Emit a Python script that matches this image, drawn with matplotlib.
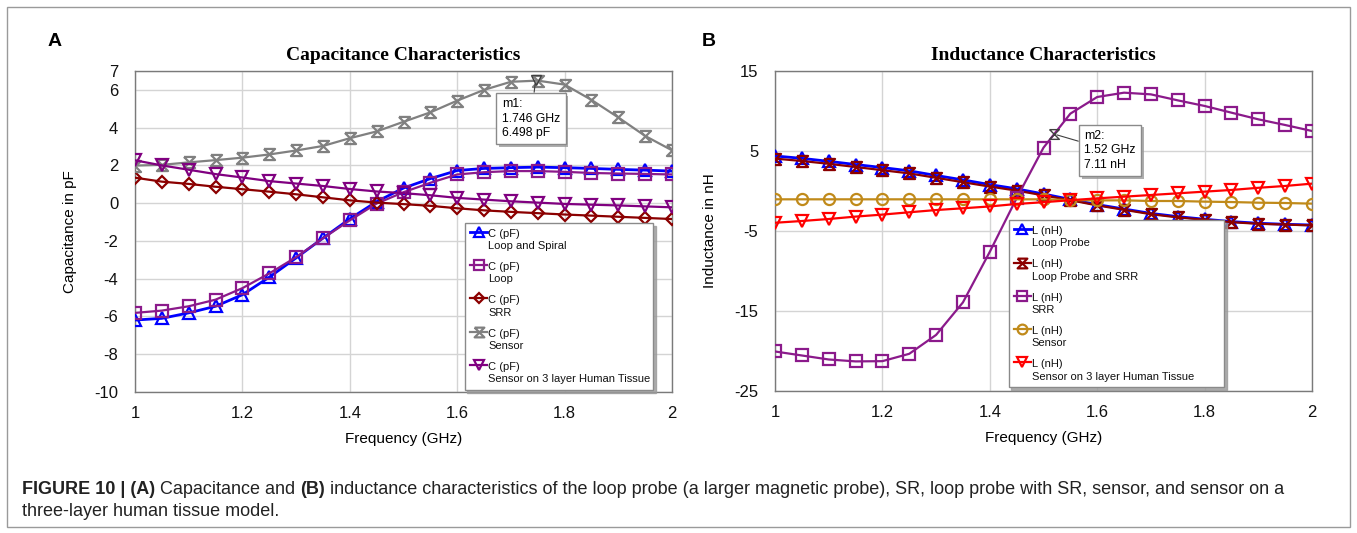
import matplotlib
matplotlib.use('Agg')
import matplotlib.pyplot as plt
import matplotlib.patheffects as pe
from matplotlib.lines import Line2D
from matplotlib.patches import Rectangle
from matplotlib.legend_handler import HandlerLine2D
from matplotlib.transforms import Affine2D

plt.rcParams['font.family'] = ['Liberation Sans', 'DejaVu Sans']
plt.rcParams['axes.unicode_minus'] = False

# ---- data ----
freq = [1.0, 1.05, 1.1, 1.15, 1.2, 1.25, 1.3, 1.35, 1.4, 1.45, 1.5,
        1.55, 1.6, 1.65, 1.7, 1.75, 1.8, 1.85, 1.9, 1.95, 2.0]

# (A) capacitance, pF
c_loop_spiral = [-6.19, -6.1, -5.81, -5.46, -4.85, -3.92, -2.9, -1.85, -0.83, 0.08, 0.8,
                 1.3, 1.73, 1.84, 1.88, 1.91, 1.88, 1.84, 1.79, 1.75, 1.7]
c_loop = [-5.81, -5.69, -5.46, -5.11, -4.5, -3.72, -2.86, -1.86, -0.91, -0.02, 0.58,
          1.08, 1.52, 1.64, 1.7, 1.7, 1.66, 1.6, 1.57, 1.55, 1.52]
c_srr = [1.35, 1.14, 1.02, 0.87, 0.74, 0.61, 0.47, 0.31, 0.15, 0.03, -0.05,
         -0.14, -0.27, -0.38, -0.46, -0.53, -0.6, -0.66, -0.72, -0.78, -0.84]
c_sensor = [1.99, 2.03, 2.16, 2.28, 2.41, 2.58, 2.79, 3.03, 3.44, 3.8, 4.31,
            4.81, 5.43, 6.0, 6.43, 6.49, 6.28, 5.47, 4.54, 3.56, 2.8]
c_tissue = [2.27, 2.0, 1.77, 1.54, 1.36, 1.17, 1.04, 0.91, 0.75, 0.62, 0.53,
            0.42, 0.28, 0.19, 0.1, 0.03, -0.04, -0.08, -0.12, -0.17, -0.22]

# (B) inductance, nH
l_loop_probe = [4.38, 4.08, 3.71, 3.31, 2.93, 2.52, 1.94, 1.39, 0.8, 0.27, -0.37,
                -1.05, -1.7, -2.25, -2.8, -3.2, -3.53, -3.82, -4.03, -4.16, -4.25]
l_loop_srr = [4.05, 3.75, 3.4, 3.0, 2.6, 2.2, 1.65, 1.1, 0.55, 0.05, -0.55,
              -1.15, -1.8, -2.35, -2.9, -3.3, -3.6, -3.9, -4.1, -4.2, -4.3]
l_srr = [-20.06, -20.56, -21.06, -21.3, -21.27, -20.35, -17.99, -13.92, -7.6, -0.9, 5.42,
         9.67, 11.75, 12.29, 12.08, 11.33, 10.63, 9.79, 8.96, 8.25, 7.5]
l_sensor = [-1.04, -1.04, -1.04, -1.04, -1.04, -1.04, -1.04, -1.04, -1.04, -1.04, -1.04,
            -1.13, -1.17, -1.17, -1.25, -1.25, -1.33, -1.38, -1.46, -1.5, -1.58]
l_tissue = [-3.97, -3.75, -3.5, -3.2, -2.95, -2.66, -2.38, -2.16, -1.93, -1.62, -1.4,
            -1.15, -0.92, -0.71, -0.5, -0.29, -0.08, 0.13, 0.4, 0.63, 0.92]

m1_freq, m1_val = 1.746, 6.498
m2_freq, m2_val = 1.52, 7.11

xticks = [1.0, 1.2, 1.4, 1.6, 1.8, 2.0]
xticklabels = ['1', '1.2', '1.4', '1.6', '1.8', '2']
c_yticks = [-10, -8, -6, -4, -2, 0, 2, 4, 6, 7]
l_yticks = [-25, -15, -5, 5, 15]

HOURGLASS = [(-1, 1), (1, 1), (-1, -1), (1, -1), (-1, 1)]

c_series = [
    (c_loop_spiral, 'Loop and Spiral', '#0000ff', '^', 2.0),
    (c_loop, 'Loop', '#8b1a8b', 's', 1.6),
    (c_srr, 'SRR', '#8b0000', 'D', 1.6),
    (c_sensor, 'Sensor', '#808080', HOURGLASS, 1.6),
    (c_tissue, 'Sensor on 3 layer Human Tissue', '#800080', 'v', 1.6),
]
l_series = [
    (l_loop_probe, 'Loop Probe', '#0000ff', '^', 2.0),
    (l_loop_srr, 'Loop Probe and SRR', '#8b0000', HOURGLASS, 1.6),
    (l_srr, 'SRR', '#8b1a8b', 's', 1.6),
    (l_sensor, 'Sensor', '#c08a1a', 'o', 1.6),
    (l_tissue, 'Sensor on 3 layer Human Tissue', '#ff0000', 'v', 1.6),
]

LEG_FS = 8.0
LEG_LS = 1.3


class TopLineHandler(HandlerLine2D):
    # put the legend symbol next to the first text line, like the HFSS legend
    def create_artists(self, legend, orig_handle, xdescent, ydescent, width, height, fontsize, trans):
        arts = super().create_artists(legend, orig_handle, xdescent, ydescent, width, height,
                                      fontsize, trans)
        shift = 0.56 * LEG_LS * fontsize
        for a in arts:
            a.set_transform(Affine2D().translate(0, shift) + trans)
        return arts


def msize(marker):
    if marker == 'D':
        return 6
    return 8


def style_axes(ax, title, ylabel, yticks, ylim):
    ax.set_xlim(1.0, 2.0)
    ax.set_ylim(*ylim)
    ax.set_xticks(xticks)
    ax.set_xticklabels(xticklabels)
    ax.set_yticks(yticks)
    ax.tick_params(length=0, labelsize=12, colors='#111111')
    ax.tick_params(axis='x', pad=10)
    ax.tick_params(axis='y', pad=12)
    ax.grid(True, color='#d4d4d4', lw=1.0)
    ax.set_axisbelow(True)
    for s in ax.spines.values():
        s.set_color('#7a7a7a')
        s.set_linewidth(1.0)
    ax.set_title(title, family=['Liberation Serif', 'DejaVu Serif'], fontweight='bold',
                 fontsize=14, pad=8)
    ax.set_xlabel('Frequency (GHz)', fontsize=11)
    ax.set_ylabel(ylabel, fontsize=11)
    ax.xaxis.set_label_coords(0.5, -0.125)
    ax.yaxis.set_label_coords(-0.108, 0.5)


def draw_series(ax, series, unit):
    handles = []
    for vals, name, color, marker, lw in series:
        ax.plot(freq, vals, color=color, lw=lw, marker=marker, ms=msize(marker),
                mfc='none', mec=color, mew=1.6, zorder=3)
        handles.append(Line2D([], [], color=color, lw=lw, marker=marker, ms=msize(marker) - 1,
                              mfc='none', mec=color, mew=1.6, label=unit + '\n' + name))
    return handles


def add_legend(ax, handles, x0, y0, w):
    leg = ax.legend(handles=handles, loc='lower left', bbox_to_anchor=(x0, y0, w, 0.5),
                    mode='expand', borderaxespad=0, fontsize=LEG_FS, handlelength=1.5,
                    handletextpad=0.1, labelspacing=0.98, borderpad=0.5,
                    fancybox=False, edgecolor='#8a8a8a', framealpha=1,
                    handler_map={Line2D: TopLineHandler()},
                    shadow={'color': '#9a9a9a', 'alpha': 0.8})
    leg.get_frame().set_linewidth(1.0)
    for t in leg.get_texts():
        t.set_linespacing(LEG_LS)
        t.set_color('#111111')
    return leg


def add_marker(ax, fx, fy, text, xytext, marker):
    ax.plot([fx], [fy], marker=marker, ms=7, mfc='none', mec='#404040', mew=1.0, zorder=5)
    ann = ax.annotate(text, xy=(fx, fy), xytext=xytext, textcoords='axes fraction',
                      ha='left', va='top', fontsize=8.8, linespacing=1.25, zorder=6,
                      bbox=dict(boxstyle='square,pad=0.45', fc='white', ec='#8a8a8a', lw=1.0),
                      arrowprops=dict(arrowstyle='-', color='#404040', lw=0.8,
                                      shrinkA=0, shrinkB=2))
    ann.get_bbox_patch().set_path_effects([
        pe.SimplePatchShadow(offset=(2, -2), shadow_rgbFace='#9a9a9a', alpha=0.8),
        pe.Normal()])


fig = plt.figure(figsize=(13.57, 5.33), dpi=100)

ax1 = fig.add_axes([135 / 1357, 141 / 533, 537 / 1357, 321 / 533])
ax2 = fig.add_axes([775 / 1357, 142 / 533, 537 / 1357, 320 / 533])

h1 = draw_series(ax1, c_series, 'C (pF)')
style_axes(ax1, 'Capacitance Characteristics', 'Capacitance in pF', c_yticks, (-10, 7))
add_legend(ax1, h1, 0.614, 0.007, 0.351)
add_marker(ax1, m1_freq, m1_val, 'm1:\n%.3f GHz\n%.3f pF' % (m1_freq, m1_val),
           (0.683, 0.915), 'v')

h2 = draw_series(ax2, l_series, 'L (nH)')
style_axes(ax2, 'Inductance Characteristics', 'Inductance in nH', l_yticks, (-25, 15))
add_legend(ax2, h2, 0.435, 0.012, 0.401)
add_marker(ax2, m2_freq, m2_val, 'm2:\n%.2f GHz\n%.2f nH' % (m2_freq, m2_val),
           (0.576, 0.815), HOURGLASS)

fig.text(55 / 1357, 1 - 42 / 533, 'A', fontsize=14, fontweight='bold', ha='center', va='center')
fig.text(709 / 1357, 1 - 42 / 533, 'B', fontsize=14, fontweight='bold', ha='center', va='center')

# outer frame
fig.patches.append(Rectangle((7 / 1357, 6 / 533), 1343 / 1357, 520 / 533, transform=fig.transFigure,
                             fill=False, ec='#9a9a9a', lw=1.0))

# caption with bold runs
caption_lines = [
    [('FIGURE 10 | (A)', 'bold'), (' Capacitance and ', 'normal'), ('(B)', 'bold'),
     (' inductance characteristics of the loop probe (a larger magnetic probe), SR, loop probe with SR, sensor, and sensor on a', 'normal')],
    [('three-layer human tissue model.', 'normal')],
]
renderer = fig.canvas.get_renderer()
cap_y = [1 - 489 / 533, 1 - 511 / 533]
for runs, yy in zip(caption_lines, cap_y):
    xx = 22 / 1357
    for txt, weight in runs:
        t = fig.text(xx, yy, txt, fontsize=13, fontweight=weight, va='center', ha='left',
                     color='#222222')
        bb = t.get_window_extent(renderer=renderer)
        xx = bb.x1 / fig.bbox.width

fig.savefig('out.png', dpi=100)
